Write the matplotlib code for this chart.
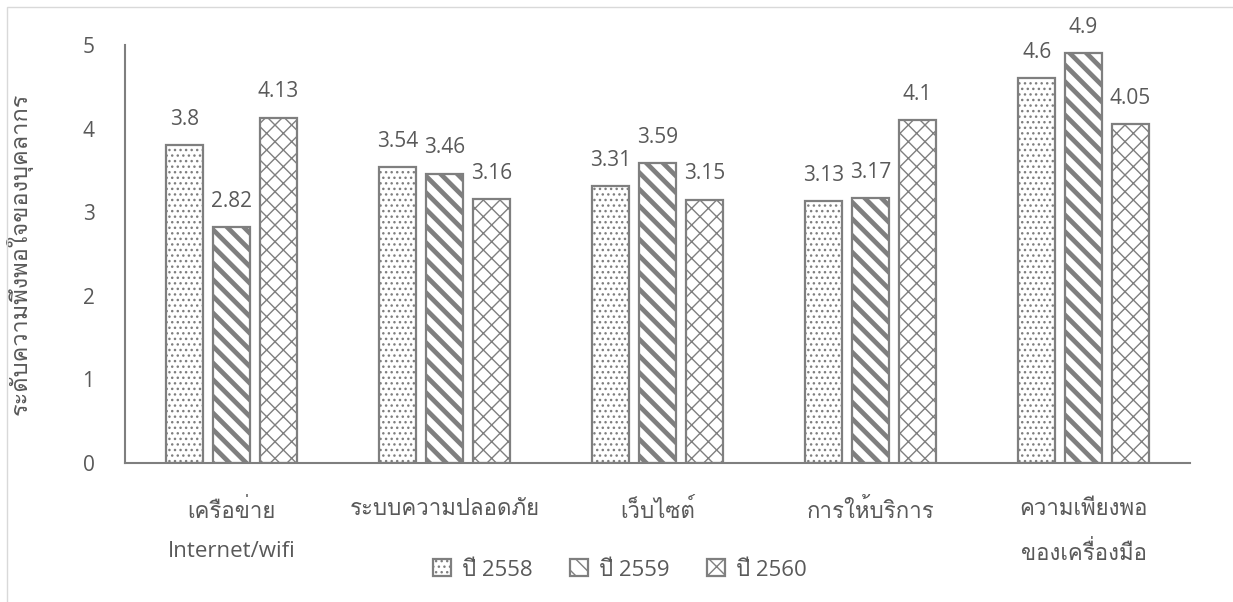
import numpy as np
import matplotlib
matplotlib.use("Agg")
import matplotlib.pyplot as plt
from matplotlib import font_manager
from matplotlib.patches import Rectangle
from fontTools.ttLib import TTFont

# ข้อมูล
categories = ["เครือข่าย\nInternet/wifi", "ระบบความปลอดภัย", "เว็บไซต์",
              "การให้บริการ", "ความเพียงพอ\nของเครื่องมือ"]
years = ["ปี 2558", "ปี 2559", "ปี 2560"]
y2558 = [3.8, 3.54, 3.31, 3.13, 4.6]
y2559 = [2.82, 3.46, 3.59, 3.17, 4.9]
y2560 = [4.13, 3.16, 3.15, 4.1, 4.05]
series = [y2558, y2559, y2560]
hatches = ["...", "\\\\", "xx"]

# หาฟอนต์ที่มีอักษรไทย
thai_font = None
for f in font_manager.fontManager.ttflist:
    try:
        cmap = TTFont(f.fname, fontNumber=0, lazy=True).getBestCmap()
        if cmap and 0x0E04 in cmap:
            thai_font = f.name
            break
    except Exception:
        pass
families = ["Open Sans"] + ([thai_font] if thai_font else []) + ["DejaVu Sans"]
plt.rcParams["font.family"] = families
plt.rcParams["hatch.color"] = "#7f7f7f"
plt.rcParams["hatch.linewidth"] = 1.0

gray = "#7f7f7f"
text_col = "#595959"

fig = plt.figure(figsize=(12.33, 6.02), dpi=100)
ax = fig.add_axes([125 / 1233, 1 - 463 / 602, (1190 - 125) / 1233, (463 - 45) / 602])

x = np.arange(len(categories))
width = 0.175
step = 0.22
for i, (vals, h) in enumerate(zip(series, hatches)):
    bars = ax.bar(x + (i - 1) * step, vals, width, color="white", edgecolor=gray,
                  linewidth=1.6, hatch=h, label=years[i])
    if i == 1:
        for b in bars:
            if hasattr(b, "set_hatch_linewidth"):
                b.set_hatch_linewidth(3.4)
    for b, v in zip(bars, vals):
        ax.annotate(f"{v:g}", (b.get_x() + b.get_width() / 2, v), xytext=(0, 11),
                    textcoords="offset points", ha="center", va="bottom",
                    fontsize=15, color=text_col)

ax.set_xlim(-0.5, 4.5)
ax.set_ylim(0, 5)
ax.set_yticks(range(6))
ax.set_xticks(x)
ax.set_xticklabels(categories, fontsize=16, color=text_col, linespacing=2.1)
ax.tick_params(axis="both", length=0, labelsize=15, colors=text_col)
ax.tick_params(axis="x", labelsize=16, pad=26)
ax.tick_params(axis="y", pad=22)
for s in ["top", "right"]:
    ax.spines[s].set_visible(False)
for s in ["left", "bottom"]:
    ax.spines[s].set_color(gray)
    ax.spines[s].set_linewidth(1.5)
ax.set_ylabel("ระดับความพึงพอใจของบุคลากร", fontsize=17, color=text_col, labelpad=36)

leg = ax.legend(loc="center", bbox_to_anchor=(620 / 1233, 1 - 570 / 602),
                bbox_transform=fig.transFigure, ncol=3, frameon=False,
                fontsize=16, handlelength=0.8, handleheight=0.8,
                handletextpad=0.5, columnspacing=1.7, labelcolor=text_col)

fig.patches.append(Rectangle((7 / 1233, -0.1), 1.2, 1 - 7 / 602 + 0.1,
                             transform=fig.transFigure, fill=False,
                             edgecolor="#d9d9d9", linewidth=1))

fig.savefig("out.png", dpi=100, facecolor="white")
